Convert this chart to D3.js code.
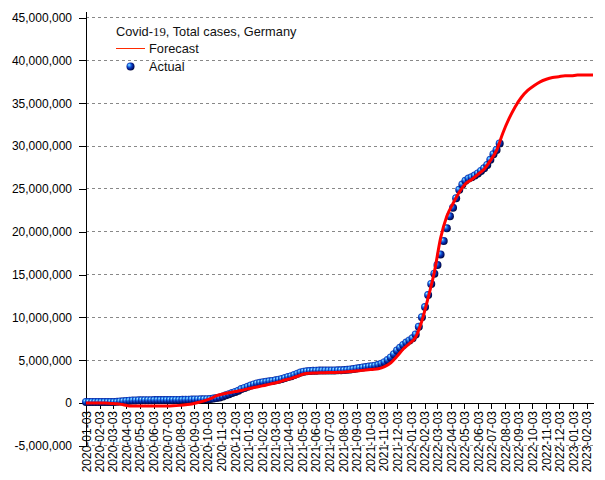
<!DOCTYPE html>
<html><head><meta charset="utf-8">
<script src="https://cdn.jsdelivr.net/npm/d3@7"></script>
<style>
html,body{margin:0;padding:0;background:#fff;}
svg{display:block;font-family:"Liberation Sans",Arial,sans-serif;}
</style></head>
<body><svg id="chart" width="605" height="480"></svg>
<script>
// ---- data ----
const actualStart = "2020-01-03";   // weekly observations (every 7 days)
const actualValues = [ // millions
 0.12,0.12,0.12,0.12,0.12,0.12,0.12,0.12,0.12,0.12,0.13,0.17,0.20,
 0.24,0.27,0.29,0.30,0.31,0.32,0.325,0.33,0.33,0.335,0.34,0.34,0.345,0.35,0.35,0.355,0.36,0.36,
 0.37,0.38,0.39,0.40,0.41,0.42,0.43,0.44,0.45,0.47,0.51,0.57,0.65,0.77,0.90,1.03,1.16,1.29,1.43,1.62,1.76,
 1.89,2.04,2.17,2.28,2.36,2.42,2.48,2.53,2.58,2.64,2.72,2.81,2.92,3.04,3.13,3.27,3.42,3.56,3.66,
 3.70,3.74,3.76,3.77,3.78,3.785,3.79,3.79,3.795,3.80,3.81,3.82,3.84,3.87,3.91,3.96,4.02,4.08,4.14,4.20,
 4.25,4.30,4.36,4.45,4.58,4.77,5.02,5.32,5.69,6.12,6.45,6.78,
 7.05,7.30,7.55,8.00,8.90,10.00,11.20,12.60,13.90,15.10,16.10,17.35,18.90,20.40,21.80,22.80,23.90,24.90,
 25.50,25.95,26.20,26.35,26.55,26.80,27.10,27.40,27.80,28.40,29.05,29.55,30.30
];
const forecastStart = "2020-01-03"; // model values every 14 days
const forecastValues = [ // millions
 0,0,0,0,-0.05,-0.10,-0.20,-0.35,-0.35,-0.35,-0.35,-0.35,-0.35,-0.35,-0.33,-0.28,-0.20,-0.12,
 0.05,0.25,0.50,0.85,1.05,1.20,1.33,1.45,1.65,1.80,1.95,2.10,2.28,2.45,2.68,2.88,3.12,3.38,
 3.47,3.50,3.53,3.55,3.57,3.60,3.64,3.70,3.77,3.84,3.92,4.00,4.25,4.70,5.45,6.30,6.95,7.70,
 9.60,12.30,15.30,19.25,21.80,23.30,24.60,25.60,26.10,26.70,27.30,28.30,29.50,31.50,33.20,34.60,
 35.70,36.50,37.05,37.50,37.80,38.00,38.10,38.20,38.20,38.30,38.30,38.30
];
const forecastEnd = "2023-02-17";
const forecastEndValue = 38.30;
const tickLabels = [
 "2020-01-03","2020-02-03","2020-03-03","2020-04-03","2020-05-03","2020-06-03","2020-07-03","2020-08-03",
 "2020-09-03","2020-10-03","2020-11-03","2020-12-03","2021-01-03","2021-02-03","2021-03-03","2021-04-03",
 "2021-05-03","2021-06-03","2021-07-03","2021-08-03","2021-09-03","2021-10-03","2021-11-03","2021-12-03",
 "2022-01-03","2022-02-03","2022-03-03","2022-04-03","2022-05-03","2022-06-03","2022-07-03","2022-08-03",
 "2022-09-03","2022-10-03","2022-11-03","2022-12-03","2023-01-03","2023-02-03"
];
const yTicks = [-5e6,0,5e6,10e6,15e6,20e6,25e6,30e6,35e6,40e6,45e6];
const titleParts = ["Covid-", "19", ", Total cases, Germany"];
const legendLabels = ["Forecast", "Actual"];

// ---- build ----
const parse = d3.timeParse("%Y-%m-%d");
const aStart = parse(actualStart), fStart = parse(forecastStart);
const actual = actualValues.map((v,i)=>({date:d3.timeDay.offset(aStart,7*i), value:v*1e6}));
const forecast = forecastValues.map((v,i)=>({date:d3.timeDay.offset(fStart,14*i), value:v*1e6}));
forecast.push({date:parse(forecastEnd), value:forecastEndValue*1e6});

const svg = d3.select("#chart");
const x = d3.scaleTime().domain([parse("2020-01-03"), parse(forecastEnd)]).range([86,593]);
const y = d3.scaleLinear().domain([-5e6,45e6]).range([445.8,17.6]);

const defs = svg.append("defs");
const g = defs.append("radialGradient").attr("id","sphere").attr("cx","45%").attr("cy","45%").attr("r","60%").attr("fx","30%").attr("fy","28%");
g.append("stop").attr("offset","0%").attr("stop-color","#c4f2ff");
g.append("stop").attr("offset","20%").attr("stop-color","#3fa6ff");
g.append("stop").attr("offset","50%").attr("stop-color","#0c3cc2");
g.append("stop").attr("offset","80%").attr("stop-color","#001270");
g.append("stop").attr("offset","100%").attr("stop-color","#000020");

// gridlines
svg.append("g").selectAll("line").data(yTicks.filter(d=>d!==0)).join("line")
  .attr("x1",86).attr("x2",593).attr("y1",d=>y(d)).attr("y2",d=>y(d))
  .attr("stroke","#888").attr("stroke-width",1).attr("stroke-dasharray","3,3")
  .attr("shape-rendering","crispEdges");

// y axis
const fmt = d3.format(",");
const yAxis = d3.axisLeft(y).tickValues(yTicks).tickFormat(d=>fmt(d).replace("\u2212","-")).tickSize(7).tickPadding(7);
const ya = svg.append("g").attr("transform","translate(86,0)").call(yAxis);
ya.select(".domain").remove();
ya.selectAll("line").attr("stroke","#000").attr("shape-rendering","crispEdges");
ya.selectAll("text").attr("font-size",12).attr("fill","#000").attr("font-family","Liberation Sans, Arial, sans-serif");
svg.append("line").attr("x1",86).attr("x2",86).attr("y1",12).attr("y2",y(-5e6))
  .attr("stroke","#000").attr("shape-rendering","crispEdges");

// x axis at zero
const xAxis = d3.axisBottom(x).tickValues(tickLabels.map(parse)).tickFormat(d3.timeFormat("%Y-%m-%d")).tickSize(6).tickSizeOuter(0);
const xa = svg.append("g").attr("transform",`translate(0,${y(0)})`).call(xAxis);
xa.select(".domain").attr("stroke","#000").attr("shape-rendering","crispEdges");
xa.selectAll("line").attr("stroke","#000").attr("shape-rendering","crispEdges");
xa.selectAll("text").attr("font-size",12).attr("fill","#000").attr("font-family","Liberation Sans, Arial, sans-serif")
  .attr("transform","rotate(-90)").attr("text-anchor","end").attr("x",-8).attr("y",0).attr("dy","0.35em");

// actual spheres
svg.append("g").selectAll("circle").data(actual).join("circle")
  .attr("cx",d=>x(d.date)).attr("cy",d=>y(d.value)).attr("r",4).attr("fill","url(#sphere)");

// forecast line
svg.append("path").datum(forecast)
  .attr("d", d3.line().x(d=>x(d.date)).y(d=>y(d.value)).curve(d3.curveMonotoneX))
  .attr("fill","none").attr("stroke","#ff0000").attr("stroke-width",3);

// legend
const t = svg.append("text").attr("x",116).attr("y",36).attr("font-size",12.8).attr("fill","#111");
t.append("tspan").text(titleParts[0]);
t.append("tspan").attr("font-family","Liberation Serif, serif").text(titleParts[1]);
t.append("tspan").text(titleParts[2]);
svg.append("line").attr("x1",116).attr("x2",145).attr("y1",48.5).attr("y2",48.5).attr("stroke","#ff2a00").attr("stroke-width",1);
svg.append("text").attr("x",149).attr("y",53).attr("font-size",12.8).attr("fill","#111").text(legendLabels[0]);
svg.append("circle").attr("cx",130.5).attr("cy",66.5).attr("r",4).attr("fill","url(#sphere)");
svg.append("text").attr("x",149).attr("y",71).attr("font-size",12.8).attr("fill","#111").text(legendLabels[1]);
</script></body></html>
